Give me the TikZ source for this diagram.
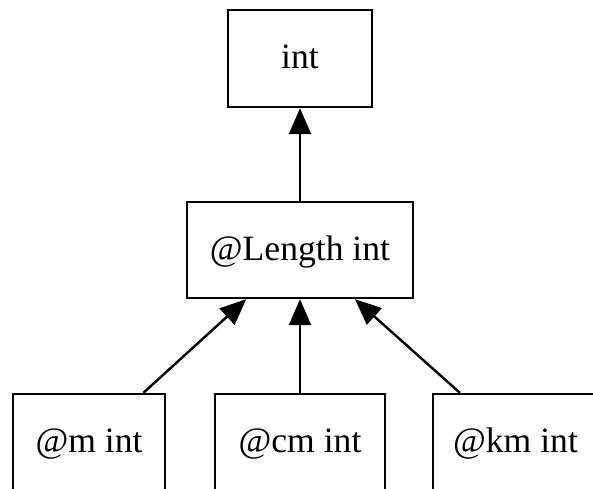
\documentclass[tikz,border=0pt]{standalone}
\usepackage{fontspec}
\setmainfont{Liberation Serif}
\usetikzlibrary{arrows.meta}
\begin{document}
\begin{tikzpicture}[x=0.75pt,y=-0.75pt,
  box/.style={draw, rectangle, line width=1.8pt, inner sep=0pt,
    minimum height=97*0.75pt,
    font=\fontsize{26.7}{32}\selectfont,
    text height=20.8pt, text depth=5.8pt},
  edge/.style={line width=1.8pt, -{Triangle[length=19.5pt,width=16.5pt]}}]
\path[use as bounding box, clip] (0,0) rectangle (593,489);
\fill[white] (0,0) rectangle (593,489);
\node[box, minimum width=144*0.75pt] (int) at (300,58.5) {int};
\node[box, minimum width=226*0.75pt, minimum height=96*0.75pt] (len) at (300,250) {@Length int};
\node[box, minimum width=152*0.75pt] (m) at (89,442.5) {@m int};
\node[box, minimum width=170*0.75pt] (cm) at (300,442.5) {@cm int};
\node[box, minimum width=165*0.75pt] (km) at (515.5,442.5) {@km int};
\draw[edge] (len) -- (int);
\draw[edge] (m) -- (len);
\draw[edge] (cm) -- (len);
\draw[edge] (km) -- (len);
\end{tikzpicture}
\end{document}
